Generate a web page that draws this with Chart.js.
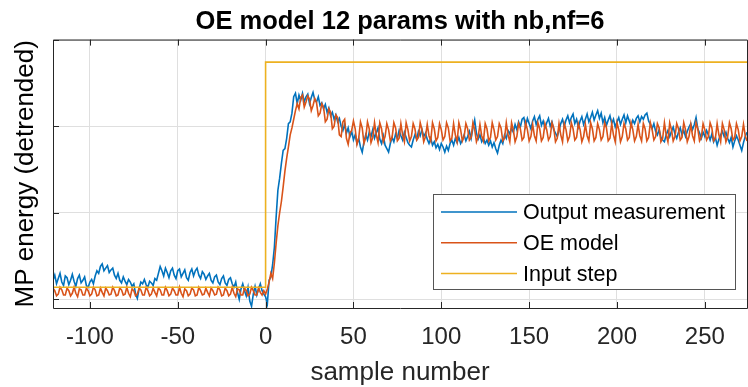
<!DOCTYPE html>
<html>
<head>
<meta charset="utf-8">
<script src="https://cdn.jsdelivr.net/npm/chart.js@4"></script>
<style>
  html, body { margin: 0; background: #fff; }
  #wrap { width: 748px; height: 387px; }
</style>
</head>
<body>
<div id="wrap"><canvas id="chart"></canvas></div>
<script>
// sample index of the first value in each series
const firstSample = -121;

// measured MP energy, one value per sample (-121 .. 274)
const measured = [
  // before the step
  0.22,0.28,0.18,0.24,0.30,0.20,0.16,0.27,0.25,0.17,0.22,0.29,0.21,0.15,0.24,0.28,0.19,
  0.22,0.26,0.16,0.14,0.20,0.23,0.18,
  0.27,0.33,0.30,0.38,0.41,0.33,0.36,0.39,0.31,0.34,0.36,0.28,
  0.24,0.30,0.22,0.19,0.26,0.21,0.17,0.23,0.20,0.15,0.18,
  0.06,0.01,0.12,0.20,
  0.18,0.23,0.17,0.14,0.21,0.19,0.16,0.24,0.22,
  0.30,0.38,0.33,0.27,0.36,0.31,0.25,0.33,
  0.36,0.28,0.24,0.33,0.35,0.26,0.30,0.34,0.25,0.22,
  0.31,0.35,0.27,0.33,0.36,0.28,0.24,0.32,0.29,0.23,
  0.27,0.30,0.22,0.19,0.26,0.28,0.20,0.17,0.24,0.27,0.19,0.16,0.23,0.25,0.18,0.14,0.20,
  0.08,0.00,0.12,0.18,0.10,0.04,0.14,-0.02,-0.08,0.06,0.15,0.05,0.12,0.18,0.10,0.06,
  // from the step on
  0.03,-0.05,0.22,0.26,0.40,0.60,0.95,1.26,1.40,1.57,
  1.72,1.74,1.86,2.03,2.05,2.15,2.34,2.38,2.26,2.36,
  2.30,2.38,2.28,2.34,2.37,2.26,2.33,2.39,2.30,2.28,
  2.34,2.24,2.27,2.20,2.25,2.16,2.21,2.12,2.16,2.08,
  2.13,2.05,2.09,2.00,1.95,2.02,1.92,1.98,1.88,1.94,
  1.84,1.90,1.80,1.86,1.76,1.70,1.82,1.90,1.84,1.93,
  1.88,1.96,1.86,1.92,1.98,1.85,1.80,1.89,1.78,1.74,
  1.70,1.80,1.87,1.82,1.91,1.86,1.95,1.89,1.84,1.93,
  1.87,1.81,1.78,1.76,1.84,1.90,1.85,1.94,1.89,1.96,
  1.88,1.92,1.85,1.80,1.86,1.78,1.82,1.75,1.79,1.73,
  1.80,1.76,1.70,1.77,1.72,1.80,1.84,1.78,1.86,1.81,
  1.87,1.80,1.84,1.90,1.83,1.88,1.94,1.86,1.98,2.07,
  1.92,1.85,1.90,1.82,1.86,1.80,1.84,1.78,1.83,1.76,
  1.81,1.74,1.69,1.78,1.84,1.80,1.90,1.86,1.95,1.91,
  1.98,1.93,2.02,1.96,2.05,1.99,2.08,2.10,2.00,2.09,
  2.03,1.97,2.06,2.11,2.02,2.08,2.12,2.01,2.06,1.98,
  2.04,2.09,2.00,2.05,1.96,1.92,1.88,1.95,2.03,2.08,
  2.00,2.07,2.12,2.04,2.10,2.14,2.03,2.08,1.99,2.06,
  2.11,2.02,2.08,2.14,2.05,2.10,2.16,2.07,2.13,2.18,
  2.09,2.15,2.04,2.10,2.01,2.07,2.12,2.03,2.08,1.99,
  2.05,2.10,2.02,2.08,2.13,2.04,2.12,2.06,2.00,2.07,
  2.03,2.09,2.12,2.05,2.11,2.08,2.13,2.15,2.06,2.02,
  1.97,2.03,1.94,1.90,1.96,1.87,1.84,1.82,1.90,1.95,
  1.88,1.94,1.99,1.91,1.86,1.93,1.98,1.90,1.95,1.88,
  1.94,1.99,2.03,1.96,2.02,2.10,1.97,1.92,1.86,1.93,
  1.88,1.95,1.90,1.84,1.91,1.82,1.87,1.78,1.85,1.90,
  1.94,1.88,1.93,1.86,1.81,1.87,1.76,1.83,1.89,1.84,
  1.78,1.72,1.81,1.88,1.93
];

// simulated OE model output for the same samples
const oeModel = [
  // before the step
  0.13,0.10,0.04,0.06,0.14,0.11,0.05,0.05,0.13,0.10,0.04,0.07,0.14,0.07,0.03,
  0.12,0.11,0.05,0.05,0.13,0.10,0.04,0.06,0.14,0.11,0.04,0.05,0.13,0.08,0.04,
  0.13,0.10,0.05,0.06,0.14,0.10,0.04,0.05,0.13,0.11,0.05,0.06,0.14,0.07,0.03,
  0.12,0.10,0.04,0.06,0.13,0.11,0.05,0.05,0.14,0.10,0.04,0.06,0.13,0.08,0.04,
  0.13,0.11,0.05,0.05,0.14,0.10,0.04,0.06,0.13,0.10,0.05,0.05,0.14,0.07,0.03,
  0.12,0.10,0.04,0.06,0.13,0.11,0.04,0.05,0.14,0.10,0.05,0.06,0.13,0.08,0.04,
  0.13,0.10,0.05,0.06,0.14,0.11,0.04,0.05,0.13,0.10,0.04,0.06,0.14,0.07,0.03,
  0.12,0.11,0.05,0.05,0.13,0.10,0.04,0.06,0.14,0.10,0.05,0.05,0.13,0.08,0.05,
  0.10,
  // from the step on
  0.06,0.12,0.20,0.30,0.24,0.42,0.65,0.85,1.00,1.13,
  1.30,1.48,1.63,1.76,1.90,1.98,2.08,2.18,2.26,2.20,
  2.33,2.36,2.22,2.28,2.35,2.31,2.18,2.24,2.32,2.27,
  2.12,2.15,2.26,2.22,2.05,2.08,2.20,2.16,1.97,2.00,
  2.13,2.10,1.90,1.88,2.05,2.08,1.86,1.79,1.92,1.95,
  2.06,1.97,1.79,1.86,2.05,1.98,1.80,1.87,2.05,1.97,1.81,1.87,2.04,1.90,1.81,
  2.04,1.97,1.82,1.88,2.03,1.96,1.83,1.87,2.04,1.98,1.83,1.86,2.03,1.90,1.82,
  2.04,1.96,1.83,1.88,2.03,1.97,1.84,1.87,2.04,1.96,1.82,1.88,2.02,1.89,1.83,
  2.04,1.97,1.83,1.87,2.03,1.96,1.84,1.88,2.04,1.98,1.83,1.86,2.03,1.90,1.82,
  2.04,1.96,1.83,1.88,2.03,1.97,1.84,1.87,2.04,1.96,1.82,1.88,2.02,1.89,1.83,
  2.03,1.97,1.83,1.87,2.04,1.96,1.84,1.88,2.03,1.98,1.83,1.86,2.04,1.90,1.82,
  2.04,1.96,1.82,1.88,2.03,1.97,1.84,1.87,2.04,1.96,1.83,1.88,2.02,1.89,1.83,
  2.04,1.97,1.83,1.87,2.03,1.96,1.84,1.88,2.04,1.98,1.82,1.86,2.03,1.90,1.82,
  2.03,1.96,1.83,1.88,2.04,1.97,1.84,1.87,2.03,1.96,1.82,1.88,2.02,1.89,1.83,
  2.04,1.97,1.83,1.87,2.03,1.96,1.84,1.88,2.04,1.98,1.83,1.86,2.03,1.90,1.82,
  2.04,1.96,1.82,1.88,2.03,1.97,1.84,1.87,2.04,1.96,1.83,1.88,2.02,1.89,1.83,
  2.03,1.97,1.83,1.87,2.04,1.96,1.84,1.88,2.03,1.98,1.82,1.86,2.04,1.90,1.82,
  2.04,1.96,1.83,1.88,2.03,1.97,1.84,1.87,2.04,1.96,1.82,1.88,2.02,1.89,1.83,
  2.04,1.97,1.83,1.87,2.03,1.96,1.84,1.88,2.04,1.98,1.83,1.86,2.03,1.90,1.82,
  2.03,1.96,1.82,1.88,2.04,1.97,1.84,1.87,2.03,1.96,1.83,1.88,2.02,1.89,1.83
];

// input step: each value is held until the next point
const stepX = [-121, 0, 274];
const stepY = [0.14, 2.74, 2.74];

const xTicks = [-100, -50, 0, 50, 100, 150, 200, 250];
const yTicks = [0, 1, 2, 3];

const seriesLabels = ['Output measurement', 'OE model', 'Input step'];
const seriesColors = ['#0072BD', '#D95319', '#EDB120'];

const FONT = "'Liberation Sans', Arial, Helvetica, sans-serif";
const INK = '#262626';

const toPoints = vals => vals.map((v, i) => ({ x: firstSample + i, y: v }));

// axes box, inward ticks and the legend, drawn over the plot
const matlabAxes = {
  id: 'matlabAxes',
  afterDatasetsDraw(chart) {
    const { ctx, chartArea: a, scales: { x, y } } = chart;
    ctx.save();
    ctx.strokeStyle = INK;
    ctx.lineWidth = 1;
    ctx.beginPath();
    ctx.moveTo(a.left + 0.5, a.bottom + 0.5);
    ctx.lineTo(a.left + 0.5, a.top + 0.5);
    ctx.lineTo(a.right + 0.5, a.top + 0.5);
    ctx.lineTo(a.right + 0.5, a.bottom + 0.5);
    ctx.closePath();
    xTicks.forEach(v => {
      const px = Math.round(x.getPixelForValue(v)) + 0.5;
      ctx.moveTo(px, a.bottom); ctx.lineTo(px, a.bottom - 6);
      ctx.moveTo(px, a.top); ctx.lineTo(px, a.top + 6);
    });
    yTicks.forEach(v => {
      const py = Math.round(y.getPixelForValue(v)) + 0.5;
      ctx.moveTo(a.left, py); ctx.lineTo(a.left + 6, py);
    });
    ctx.stroke();

    // legend box in the lower right corner
    const w = 302, h = 95;
    const lx = a.right - 12 - w, ly = a.bottom - 19 - h;
    ctx.fillStyle = '#fff';
    ctx.fillRect(lx, ly, w, h);
    ctx.strokeStyle = '#555';
    ctx.strokeRect(lx + 0.5, ly + 0.5, w, h);
    ctx.font = `21.5px ${FONT}`;
    ctx.textBaseline = 'middle';
    ctx.fillStyle = '#000';
    seriesLabels.forEach((lab, i) => {
      const ry = ly + 18 + i * 30.8;
      ctx.strokeStyle = seriesColors[i];
      ctx.lineWidth = 1.5;
      ctx.beginPath();
      ctx.moveTo(lx + 8, ry);
      ctx.lineTo(lx + 84, ry);
      ctx.stroke();
      ctx.fillText(lab, lx + 90, ry + 1);
    });
    ctx.restore();
  }
};

new Chart(document.getElementById('chart'), {
  type: 'line',
  data: {
    datasets: [
      { label: seriesLabels[0], data: toPoints(measured), borderColor: seriesColors[0], order: 3 },
      { label: seriesLabels[1], data: toPoints(oeModel), borderColor: seriesColors[1], order: 2 },
      { label: seriesLabels[2], data: stepX.map((v, i) => ({ x: v, y: stepY[i] })),
        borderColor: seriesColors[2], stepped: 'before', order: 1 }
    ]
  },
  options: {
    responsive: true,
    maintainAspectRatio: false,
    animation: false,
    devicePixelRatio: 1,
    layout: { padding: { left: 0, right: 1, top: 0, bottom: 0 } },
    elements: {
      point: { radius: 0 },
      line: { borderWidth: 1.6, tension: 0, fill: false }
    },
    plugins: {
      legend: { display: false },
      tooltip: { enabled: false },
      title: {
        display: true,
        fullSize: false,
        text: 'OE model 12 params with nb,nf=6',
        color: '#000',
        font: { family: FONT, size: 25.5, weight: 'bold' },
        padding: { top: 7, bottom: 2 }
      }
    },
    scales: {
      x: {
        type: 'linear',
        min: -121,
        max: 274,
        afterBuildTicks: s => { s.ticks = xTicks.map(v => ({ value: v })); },
        afterFit: s => { s.height = 79; },
        border: { display: false },
        grid: { color: '#dfdfdf', drawTicks: false },
        ticks: { color: INK, font: { family: FONT, size: 24 }, padding: 15 },
        title: {
          display: true, text: 'sample number', color: INK,
          font: { family: FONT, size: 26 }, padding: { top: 0, bottom: -1 }
        }
      },
      y: {
        min: -0.1,
        max: 3,
        afterBuildTicks: s => { s.ticks = yTicks.map(v => ({ value: v })); },
        afterFit: s => { s.width = 53; },
        border: { display: false },
        grid: { color: '#dfdfdf', drawTicks: false },
        ticks: { display: false },
        title: {
          display: true, text: 'MP energy (detrended)', color: '#000',
          font: { family: FONT, size: 26 }, padding: { top: 10, bottom: 0 }
        }
      }
    }
  },
  plugins: [matlabAxes]
});
</script>
</body>
</html>
